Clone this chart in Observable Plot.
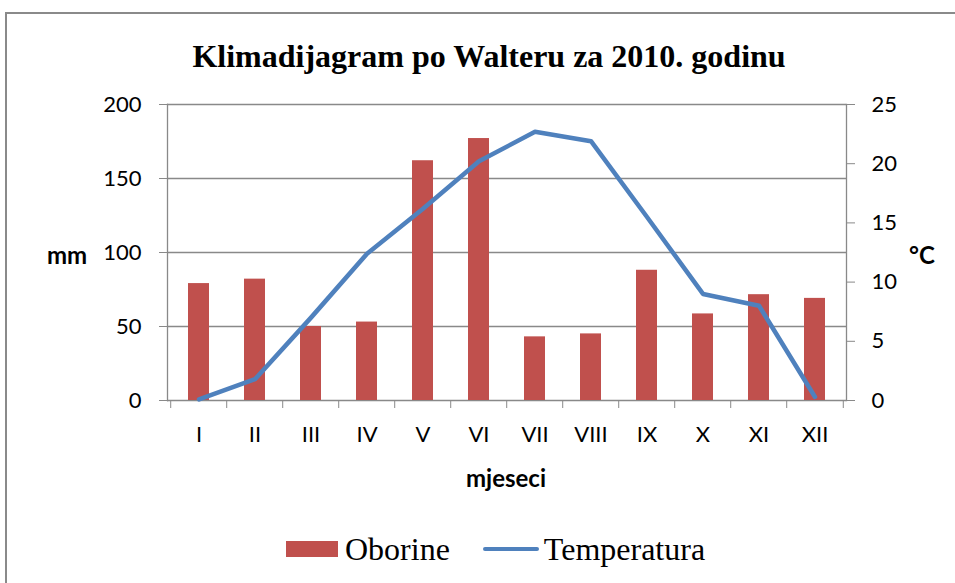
<!DOCTYPE html>
<html><head><meta charset="utf-8">
<script src="https://cdn.jsdelivr.net/npm/d3@7"></script>
<script src="https://cdn.jsdelivr.net/npm/@observablehq/plot@0.6"></script>
<style>
body{margin:0;background:#fff;}
#wrap{position:relative;width:955px;height:583px;overflow:hidden;background:#fff;}
#border{position:absolute;left:5px;top:12px;width:960px;height:600px;border:2px solid #8a8a8a;box-sizing:border-box;}
.t{position:absolute;white-space:nowrap;color:#000;line-height:1;}
#title{left:489px;top:38px;transform:translateX(-50%);font:bold 32px "Liberation Serif",serif;}
.ax{font:bold 24px Lato,"Open Sans",sans-serif;}
#chart{position:absolute;left:0;top:0;}
#legend{position:absolute;left:286px;top:533px;font:32px "Liberation Serif",serif;line-height:1;display:flex;align-items:center;}
</style></head>
<body>
<div id="wrap">
<div id="border"></div>
<div id="chart"></div>
<div class="t" id="title">Klimadijagram po Walteru za 2010. godinu</div>
<div class="t ax" style="left:47px;top:240px;">mm</div>
<div class="t ax" style="left:909px;top:240px;">°C</div>
<div class="t ax" style="left:506px;top:463px;transform:translateX(-50%);">mjeseci</div>
<div id="legend">
 <span style="display:inline-block;width:52px;height:16px;background:#C0504D;margin-right:7px;"></span><span>Oborine</span>
 <span style="display:inline-block;width:56px;height:4px;border-radius:2px;background:#4F81BD;margin-left:33px;margin-right:5px;"></span><span>Temperatura</span>
</div>
</div>
<script>
const months = ["I","II","III","IV","V","VI","VII","VIII","IX","X","XI","XII"];
const oborine = [79, 82, 50, 53, 162, 177, 43, 45, 88, 58.5, 71.5, 69];
const temperatura = [0.1, 1.8, 7.0, 12.4, 16.2, 20.2, 22.7, 21.9, 15.5, 9.0, 8.0, 0.3];
const mmTicks = [0, 50, 100, 150, 200];
const cTicks = [0, 5, 10, 15, 20, 25];

const ratio = 200 / 25;
const data = months.map((m, i) => ({month: m, p: oborine[i], t: temperatura[i] * ratio}));

const W = 955, H = 583, ml = 167, mr = 109, mt = 104, mb = 183;
const step = (W - ml - mr) / months.length;
const grey = "#898989";
const tickFont = {fontSize: 22, fontFamily: "Lato, 'Open Sans', sans-serif", fill: "#000"};

const chart = Plot.plot({
  width: W, height: H,
  marginLeft: ml, marginRight: mr, marginTop: mt, marginBottom: mb,
  style: {background: "transparent", overflow: "visible"},
  x: {domain: months, paddingInner: 0.62, paddingOuter: 0.31, axis: null},
  y: {domain: [0, 200], axis: null},
  marks: [
    Plot.gridY(mmTicks, {stroke: grey, strokeOpacity: 1, strokeWidth: 1.3}),
    Plot.frame({anchor: "left", stroke: grey, strokeWidth: 1.3}),
    Plot.frame({anchor: "right", stroke: grey, strokeWidth: 1.3}),
    Plot.axisY({anchor: "left", label: null, ticks: mmTicks, tickSize: 8, tickPadding: 18, stroke: grey, ...tickFont}),
    Plot.axisY({anchor: "right", label: null, ticks: cTicks.map(c => c * ratio), tickFormat: d => d / ratio, tickSize: 8, tickPadding: 17, stroke: grey, textAnchor: "start", ...tickFont}),
    Plot.axisX({anchor: "bottom", label: null, tickSize: 0, tickPadding: 26, ...tickFont}),
    Plot.axisX({anchor: "bottom", label: null, tickSize: 8, tickFormat: () => "", dx: -step / 2, stroke: grey}),
    Plot.axisX({anchor: "bottom", label: null, ticks: [months[months.length - 1]], tickSize: 8, tickFormat: () => "", dx: step / 2, stroke: grey}),
    Plot.barY(data, {x: "month", y: "p", fill: "#C0504D"}),
    Plot.lineY(data, {x: "month", y: "t", stroke: "#4F81BD", strokeWidth: 4.5, strokeLinejoin: "round"})
  ]
});
document.getElementById("chart").appendChild(chart);
</script>
</body></html>
